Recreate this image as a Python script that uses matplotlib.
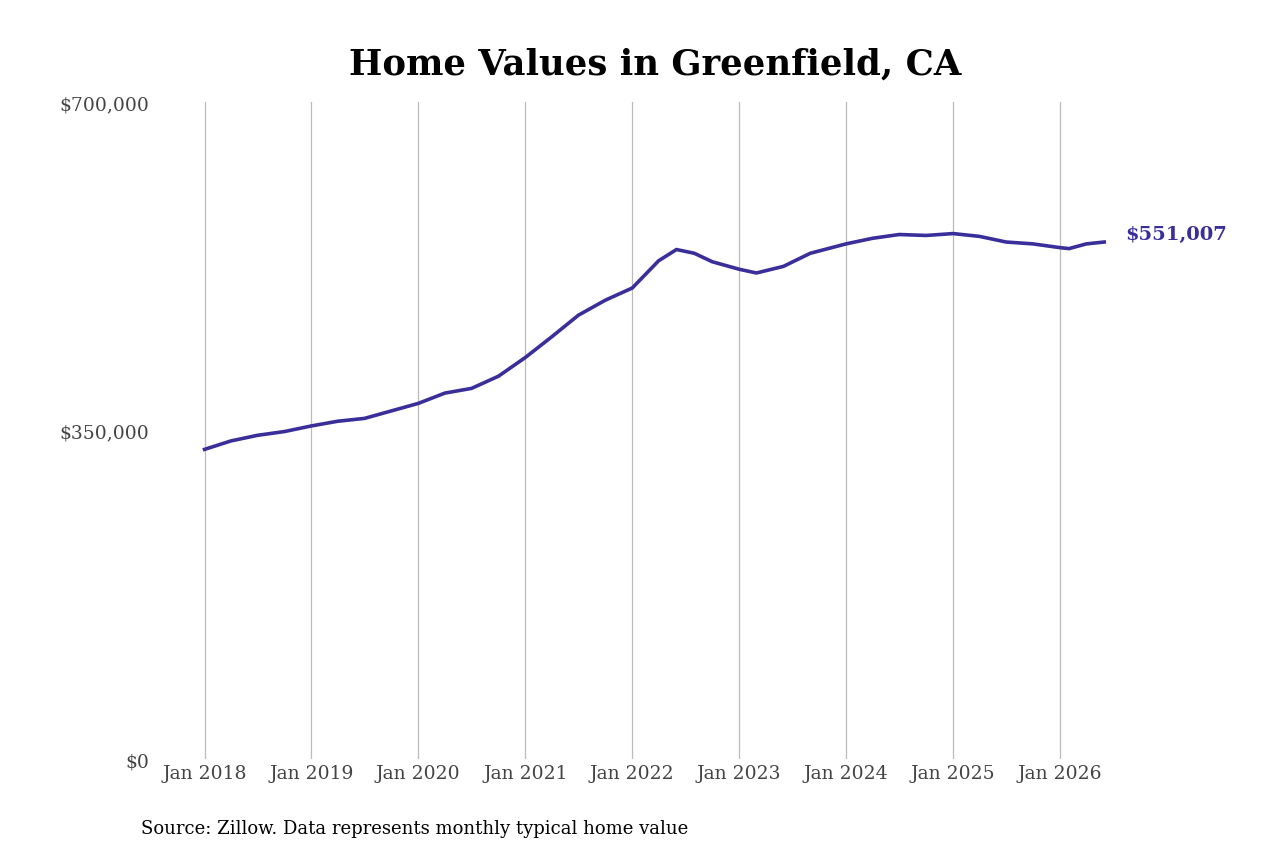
import numpy as np
import pandas as pd
import matplotlib
matplotlib.use("Agg")
import matplotlib.pyplot as plt

dates = pd.to_datetime([
    "2018-01", "2018-04", "2018-07", "2018-10", "2019-01", "2019-04", "2019-07", "2019-10",
    "2020-01", "2020-04", "2020-07", "2020-10", "2021-01", "2021-04", "2021-07", "2021-10",
    "2022-01", "2022-04", "2022-06", "2022-08", "2022-10", "2023-01", "2023-03", "2023-06",
    "2023-09", "2024-01", "2024-04", "2024-07", "2024-10", "2025-01", "2025-04", "2025-07",
    "2025-10", "2026-01", "2026-02", "2026-04", "2026-06",
])
values = [
    330000, 339000, 345000, 349000, 355000, 360000, 363000, 371000,
    379000, 390000, 395000, 408000, 428000, 450000, 473000, 489000,
    502000, 531000, 543000, 539000, 530000, 522000, 518000, 525000,
    539000, 549000, 555000, 559000, 558000, 560000, 557000, 551000,
    549000, 545000, 544000, 549000, 551007,
]
last_label = "$551,007"

plt.rcParams["font.family"] = ["DejaVu Serif"]
fig = plt.figure(figsize=(12.8, 8.53), dpi=100)
ax = fig.add_axes([0.12, 0.109, 0.747, 0.77])

ax.plot(dates, values, color="#3a2f9a", linewidth=2.6)
ax.set_ylim(0, 700000)
ax.set_xlim(pd.Timestamp("2017-07-11"), pd.Timestamp("2026-06-20"))
ax.set_yticks([0, 350000, 700000])
ax.set_yticklabels(["$0", "$350,000", "$700,000"])
years = pd.to_datetime([f"{y}-01-01" for y in range(2018, 2027)])
ax.set_xticks(years)
ax.set_xticklabels([f"Jan {y}" for y in range(2018, 2027)])
ax.grid(axis="x", color="#bbbbbb", linewidth=0.9)
ax.grid(axis="y", visible=False)
for s in ax.spines.values():
    s.set_visible(False)
ax.tick_params(length=0, labelsize=13.5, colors="#444444")
ax.tick_params(axis="y", pad=3)

ax.annotate(last_label, (dates[-1], values[-1]), xytext=(15, 6), textcoords="offset points",
            color="#3a2f9a", fontsize=14, fontweight="bold", va="center")

fig.text(0.512, 0.913, "Home Values in Greenfield, CA", ha="center", fontsize=25.5, fontweight="bold")
fig.text(0.11, 0.022, "Source: Zillow. Data represents monthly typical home value", fontsize=13)

fig.savefig("out.png", dpi=100)
